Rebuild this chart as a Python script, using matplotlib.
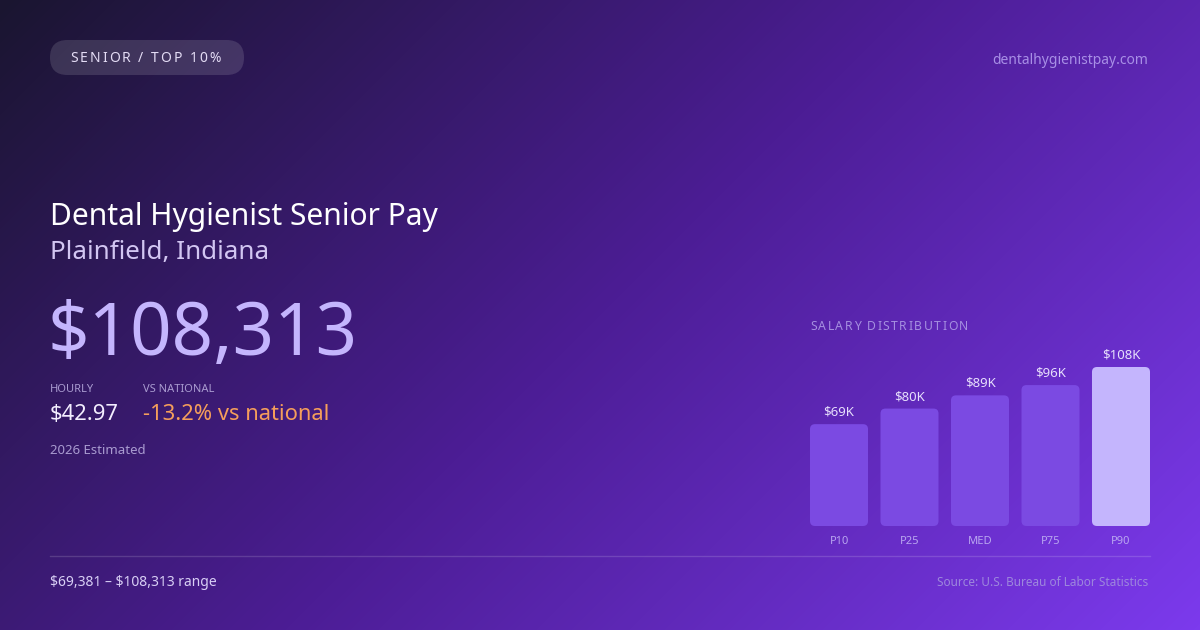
import numpy as np
import matplotlib
matplotlib.use("Agg")
import matplotlib.pyplot as plt
from matplotlib.colors import LinearSegmentedColormap
from matplotlib.patches import FancyBboxPatch

plt.rcParams['font.family'] = ['Noto Sans', 'DejaVu Sans']

# data
labels = ["P10", "P25", "MED", "P75", "P90"]
values = [69381, 80000, 89000, 96000, 108313]
value_labels = ["$69K", "$80K", "$89K", "$96K", "$108K"]

W, H = 1200, 630
fig = plt.figure(figsize=(12, 6.3), dpi=100)

# background gradient (135deg)
bg = fig.add_axes([0, 0, 1, 1])
bg.set_xlim(0, W)
bg.set_ylim(H, 0)
bg.axis("off")
xx, yy = np.meshgrid(np.arange(W), np.arange(H))
t = ((xx - W / 2) + (yy - H / 2)) / (W + H) + 0.5
cmap = LinearSegmentedColormap.from_list(
    "bg", [(0, "#1a1530"), (0.5, "#4c1d95"), (1, "#7c3aed")])
bg.imshow(t, cmap=cmap, extent=(0, W, H, 0), aspect="auto", vmin=0, vmax=1,
          interpolation="bilinear")

renderer = fig.canvas.get_renderer()


def txt(ax, x, y, s, **kw):
    kw.setdefault("va", "center")
    kw.setdefault("ha", "left")
    return ax.text(x, y, s, parse_math=False, **kw)


def spaced(ax, x, y, s, spacing, **kw):
    # draw text char by char with extra letter spacing (pixels)
    for ch in s:
        t = txt(ax, x, y, ch, **kw)
        w = t.get_window_extent(renderer).width
        if ch == " ":
            w = t.get_fontsize() * 100 / 72 * 0.26
        x += w + spacing
    return x


# pill
pill = FancyBboxPatch((50, 40), 194, 35,
                      boxstyle="round,pad=0,rounding_size=17.5",
                      fc=(1, 1, 1, 0.13), ec="none")
bg.add_patch(pill)
spaced(bg, 70, 59, "SENIOR / TOP 10%", 2.0, fontsize=10, color="#e4dcf5")

txt(bg, 1148, 60, "dentalhygienistpay.com", ha="right",
    fontsize=10, color="#a88fe6")

# headline block
txt(bg, 50, 217, "Dental Hygienist Senior Pay", fontsize=21.6, color="#ffffff")
txt(bg, 50, 252, "Plainfield, Indiana", fontsize=18.7, color="#d2c6f2")
txt(bg, 48, 336, "$108,313", fontsize=52.3, color="#c4b5fd")

txt(bg, 50, 389, "HOURLY", fontsize=8, color="#a99bd0")
txt(bg, 143, 389, "VS NATIONAL", fontsize=8, color="#a99bd0")
txt(bg, 50, 415, "$42.97", fontsize=15.8, color="#f3eeff")
txt(bg, 143, 415, "-13.2% vs national", fontsize=15.8, color="#f59e5b")
txt(bg, 50, 451, "2026 Estimated", fontsize=9.5, color="#a99bd0")

# footer
bg.plot([50, 1150], [556, 556], color=(1, 1, 1, 0.15), lw=1)
txt(bg, 50, 583, "$69,381 \u2013 $108,313 range", fontsize=10,
    color="#d8cff5")
txt(bg, 1148, 583, "Source: U.S. Bureau of Labor Statistics", ha="right",
    fontsize=8.5, color="#9d87dd")

spaced(bg, 810, 327, "SALARY DISTRIBUTION", 1.5, fontsize=8.8,
       color="#a58fe0")

# bar chart
ax_left, ax_right = 810, 1150
ax_bot, ax_top = 526, 346
ax = fig.add_axes([ax_left / W, (H - ax_bot) / H,
                   (ax_right - ax_left) / W, (ax_bot - ax_top) / H])
ax.patch.set_alpha(0)
ax.axis("off")
bw = 0.823
ax.set_xlim(-bw / 2, len(labels) - 1 + bw / 2)
ymax = values[-1] * (ax_bot - ax_top) / 159
ax.set_ylim(0, ymax)

px_x = (len(labels) - 1 + bw) / (ax_right - ax_left)
px_y = ymax / (ax_bot - ax_top)
colors = ["#7b4ae2"] * 4 + ["#c4b5fd"]
for i, (v, c) in enumerate(zip(values, colors)):
    p = FancyBboxPatch((i - bw / 2, 0), bw, v,
                       boxstyle="round,pad=0,rounding_size=%f" % (5 * px_x),
                       mutation_aspect=px_y / px_x,
                       fc=c, ec="none")
    ax.add_patch(p)
    txt(ax, i, v + 12 * px_y, value_labels[i], ha="center",
        fontsize=9.5, color="#e6defc")
    txt(ax, i, -15 * px_y, labels[i], ha="center",
        fontsize=8, color="#b9a6f0", clip_on=False)

fig.savefig("out.png", dpi=100)
